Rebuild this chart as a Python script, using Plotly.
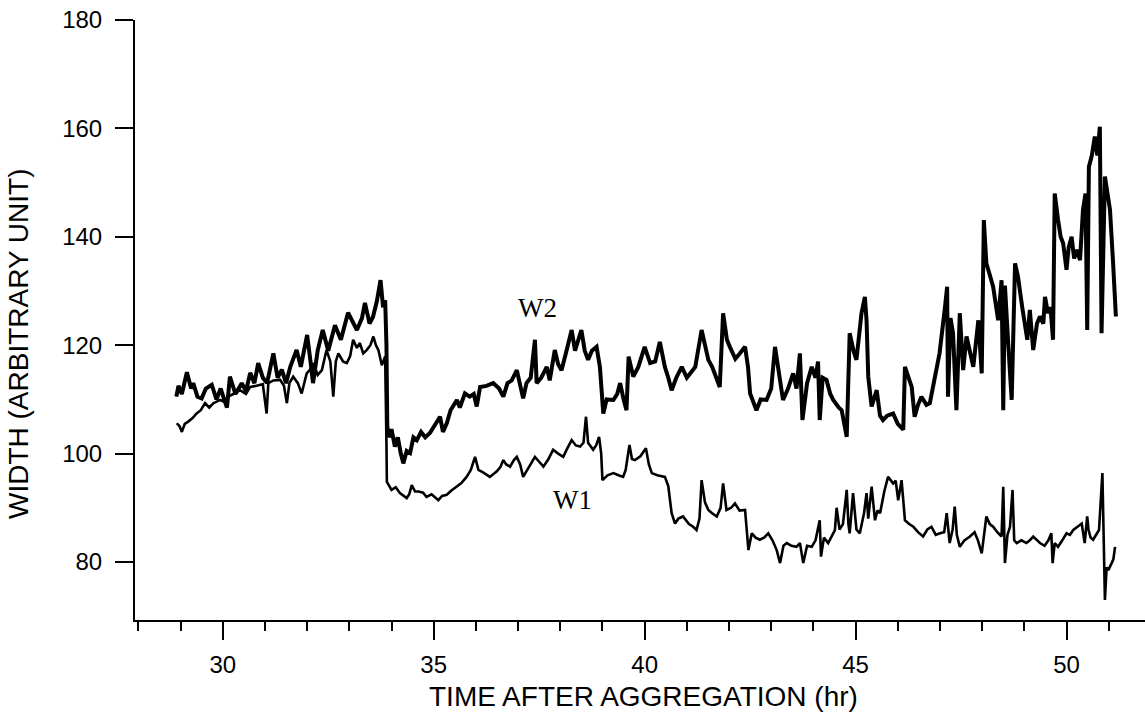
import plotly.graph_objects as go

# ---- data ----
w2_time = [28.90, 28.95, 29.03, 29.15, 29.25, 29.30, 29.40, 29.50, 29.60, 29.74, 29.85, 29.95,
           30.10, 30.17, 30.30, 30.45, 30.55, 30.65, 30.75, 30.84, 30.95, 31.05, 31.20, 31.30,
           31.40, 31.50, 31.60, 31.75, 31.85, 32.00, 32.08, 32.14, 32.25, 32.37, 32.50, 32.66,
           32.80, 32.97, 33.10, 33.18, 33.30, 33.37, 33.48, 33.56, 33.65, 33.74, 33.80, 33.85,
           33.88, 33.90, 33.95, 34.00, 34.08, 34.15, 34.22, 34.28, 34.36, 34.44, 34.52, 34.60,
           34.70, 34.80, 34.91, 35.00, 35.15, 35.22, 35.31, 35.40, 35.55, 35.62, 35.74, 35.85,
           35.95, 36.02, 36.10, 36.25, 36.41, 36.55, 36.65, 36.75, 36.85, 36.97, 37.05, 37.12,
           37.20, 37.30, 37.40, 37.44, 37.55, 37.68, 37.75, 37.87, 37.95, 38.03, 38.15, 38.27,
           38.35, 38.50, 38.58, 38.66, 38.75, 38.86, 38.94, 38.98, 39.02, 39.10, 39.26, 39.35,
           39.42, 39.50, 39.57, 39.62, 39.73, 39.85, 40.00, 40.13, 40.25, 40.36, 40.48, 40.56,
           40.64, 40.75, 40.88, 41.00, 41.11, 41.20, 41.35, 41.45, 41.51, 41.60, 41.70, 41.78,
           41.86, 41.95, 42.02, 42.15, 42.26, 42.38, 42.45, 42.50, 42.65, 42.75, 42.89, 43.00,
           43.09, 43.18, 43.28, 43.40, 43.52, 43.60, 43.68, 43.74, 43.85, 43.96, 44.05, 44.11,
           44.15, 44.22, 44.31, 44.40, 44.47, 44.60, 44.67, 44.79, 44.86, 44.95, 45.02, 45.14,
           45.22, 45.26, 45.30, 45.38, 45.50, 45.58, 45.65, 45.75, 45.89, 46.00, 46.13, 46.17,
           46.25, 46.33, 46.40, 46.48, 46.56, 46.68, 46.76, 46.88, 46.99, 47.12, 47.17, 47.19,
           47.25, 47.31, 47.39, 47.47, 47.55, 47.63, 47.71, 47.79, 47.91, 47.99, 48.04, 48.10,
           48.18, 48.26, 48.38, 48.46, 48.50, 48.54, 48.62, 48.70, 48.78, 48.85, 48.95, 49.01,
           49.07, 49.13, 49.21, 49.30, 49.37, 49.45, 49.49, 49.56, 49.62, 49.68, 49.72, 49.80,
           49.86, 49.92, 50.00, 50.05, 50.12, 50.18, 50.24, 50.32, 50.39, 50.45, 50.49, 50.53,
           50.60, 50.67, 50.73, 50.79, 50.83, 50.91, 50.97, 51.03, 51.10, 51.17]
w2_width = [110.5, 112.5, 111, 115, 112, 113, 110.5, 110.2, 112, 112.7, 110, 112,
            108.5, 114.2, 111, 113, 111.5, 114.9, 113, 116.7, 114, 113, 118.5, 114,
            115.5, 113, 116, 119.1, 116, 121.9, 117, 113, 119, 122.8, 119, 123.7,
            121, 126, 124, 122.8, 125, 127.8, 124, 125.2, 128, 132, 127, 128.3,
            120, 105, 103, 104.5, 101.3, 103, 100, 98.2, 100.5, 100.1, 103, 102.5,
            104, 103, 103.8, 105, 106.8, 104, 105.6, 108, 109.9, 108.5, 111.1, 110.5,
            111, 108.7, 112.3, 112.5, 113, 112, 110.5, 113, 113.5, 115.4, 113, 110.2,
            113, 114, 121, 113, 114, 116, 113.5, 119.1, 116.5, 115.4, 119, 122.8,
            119, 122.8, 119, 117.3, 119, 119.7, 116, 110.5, 107.4, 110, 109.9, 111,
            113, 110, 108, 117.9, 114.2, 116, 119.7, 116.7, 117, 120.6, 116, 114,
            111.7, 114, 116, 114, 115.1, 116, 122.8, 119, 117.3, 116, 114, 112.3,
            125.9, 121, 119.7, 117.5, 118.5, 119.7, 116, 111.1, 108, 110, 109.9, 112,
            119.7, 115, 109.9, 112, 114.8, 112, 118.5, 106.2, 113, 116, 114, 117,
            106.2, 114, 113.6, 111, 109.9, 108.5, 108, 103.1, 122.2, 119, 117.3, 125.9,
            128.9, 124.6, 114.2, 108.7, 111.7, 107, 106.2, 107, 107.4, 105.5, 104.4, 116,
            114, 112.3, 106.8, 109, 110.5, 109, 109.3, 114.2, 118.5, 127.1, 130.8, 110.5,
            125, 122.2, 108, 125.9, 115.4, 121.6, 119, 116, 124.6, 114.8, 143.1, 135.1,
            133, 130.8, 124.6, 132, 108, 131, 120, 109.9, 135.1, 132.6, 127, 124,
            121, 126.5, 119.1, 124, 125.3, 124, 128.9, 125.9, 127, 121, 148, 143.1,
            140, 138.8, 133.9, 138, 140, 136, 137.6, 135.7, 145, 148, 122.8, 152.9,
            155, 158.5, 155, 160.3, 122.2, 151.1, 148, 145, 135.7, 125.3]

w1_time = [28.91, 28.98, 29.03, 29.10, 29.18, 29.28, 29.38, 29.48, 29.58, 29.68, 29.78, 29.94,
           30.05, 30.13, 30.25, 30.41, 30.55, 30.65, 30.80, 30.95, 31.04, 31.08, 31.20, 31.36,
           31.45, 31.52, 31.58, 31.67, 31.78, 31.87, 31.99, 32.07, 32.15, 32.25, 32.35, 32.46,
           32.55, 32.62, 32.68, 32.74, 32.85, 32.94, 33.02, 33.09, 33.18, 33.25, 33.33, 33.41,
           33.50, 33.57, 33.63, 33.69, 33.77, 33.85, 33.88, 33.89, 34.00, 34.10, 34.20, 34.36,
           34.42, 34.48, 34.56, 34.64, 34.75, 34.83, 34.95, 35.11, 35.20, 35.31, 35.42, 35.55,
           35.65, 35.78, 35.88, 35.98, 36.06, 36.18, 36.33, 36.49, 36.58, 36.65, 36.72, 36.81,
           36.90, 36.97, 37.05, 37.12, 37.25, 37.40, 37.50, 37.60, 37.72, 37.83, 37.95, 38.07,
           38.17, 38.27, 38.37, 38.47, 38.55, 38.61, 38.66, 38.78, 38.85, 38.92, 38.97, 39.00,
           39.12, 39.26, 39.38, 39.49, 39.55, 39.64, 39.70, 39.77, 39.90, 40.03, 40.10, 40.17,
           40.30, 40.48, 40.56, 40.64, 40.72, 40.80, 40.91, 41.05, 41.15, 41.23, 41.30, 41.35,
           41.43, 41.51, 41.60, 41.71, 41.80, 41.86, 41.94, 42.05, 42.14, 42.25, 42.38, 42.46,
           42.54, 42.63, 42.73, 42.83, 42.93, 43.03, 43.13, 43.21, 43.29, 43.37, 43.48, 43.60,
           43.68, 43.76, 43.85, 43.96, 44.05, 44.15, 44.18, 44.25, 44.35, 44.45, 44.51, 44.55,
           44.62, 44.70, 44.79, 44.83, 44.86, 44.94, 45.02, 45.10, 45.20, 45.26, 45.30, 45.38,
           45.46, 45.52, 45.58, 45.68, 45.77, 45.89, 45.95, 46.01, 46.09, 46.17, 46.27, 46.37,
           46.48, 46.60, 46.70, 46.80, 46.90, 47.00, 47.10, 47.16, 47.23, 47.30, 47.35, 47.40,
           47.47, 47.58, 47.71, 47.82, 47.90, 47.99, 48.05, 48.10, 48.18, 48.26, 48.36, 48.46,
           48.50, 48.54, 48.60, 48.66, 48.72, 48.76, 48.82, 48.93, 49.05, 49.13, 49.21, 49.30,
           49.37, 49.48, 49.57, 49.64, 49.67, 49.72, 49.80, 49.90, 50.00, 50.08, 50.16, 50.26,
           50.36, 50.43, 50.49, 50.52, 50.57, 50.63, 50.70, 50.77, 50.85, 50.88, 50.91, 50.95,
           50.99, 51.07, 51.11, 51.15]
w1_width = [105.6, 105, 104, 105.5, 105.9, 106.5, 107.4, 108, 109.3, 108.5, 109.3, 109.9,
            109.5, 110.5, 111, 111.7, 111, 112.3, 112.5, 112.8, 107.4, 113, 113.5, 113.6,
            112.5, 109.3, 113, 114.2, 113, 111.1, 114.8, 115.5, 116.7, 114.5, 115.4, 119.1,
            117, 110.5, 117, 118.5, 117, 116.7, 118, 121, 119.5, 120.4, 118.5, 119.1,
            120, 121.6, 120, 119.1, 116.3, 117.9, 101.9, 94.8, 93.3, 93.8, 92.7, 91.8,
            92.5, 94.2, 93, 93, 92.8, 92, 92.5, 91.4, 92.2, 92.4, 93.2, 93.9,
            94.5, 95.7, 97, 99.4, 97, 96.5, 95.7, 96.7, 97.5, 98.8, 98, 97.6,
            98.8, 99.4, 98, 95.7, 97.5, 99.4, 98.5, 97.6, 99, 100.7, 100, 99.4,
            101, 102.5, 101.5, 101.3, 102, 106.8, 102, 100.7, 101.5, 103.1, 100, 95.1,
            96, 96.4, 96, 95.7, 97, 101.6, 99, 98.8, 99.5, 101, 98, 96.4,
            96, 95.7, 94, 89, 87.1, 88, 88.4, 87, 86.5, 85.9, 88, 95.1,
            91, 89.6, 89, 88.4, 90, 94.5, 89.6, 90, 90.8, 89.5, 89.6, 82.2,
            85.3, 84.5, 84.1, 84.5, 85.3, 84, 82.2, 79.8, 83, 83.5, 83, 82.8,
            83.5, 79.8, 83, 82.8, 84, 87.7, 81, 84.5, 83.5, 85, 85.9, 90,
            86, 87, 93.3, 87, 85.3, 92.7, 86, 85.3, 89, 92.7, 88, 93.9,
            87.7, 89.5, 89, 93, 95.7, 94.5, 95, 91.4, 95.1, 87.7, 87, 86.5,
            85.5, 84.7, 86, 86.5, 85, 85.3, 85.5, 89, 83.5, 86, 90.2, 85,
            82.8, 84, 84.7, 85.5, 84, 81.6, 85, 88.4, 87, 86.5, 85.5, 84.7,
            93.9, 79.8, 85, 86.5, 93.3, 84, 83.5, 84, 83.5, 84, 84.7, 84,
            83.5, 83, 84, 85.3, 79.8, 83.5, 82.8, 84, 85.3, 85, 85.9, 86.5,
            87.1, 83.5, 88.4, 86, 84.5, 84.1, 85, 85.9, 96.4, 84, 73, 79,
            78.5, 79.8, 80.5, 82.8]

x_ticks = [30, 35, 40, 45, 50]
y_ticks = [80, 100, 120, 140, 160, 180]
x_title = "TIME AFTER AGGREGATION (hr)"
y_title = "WIDTH (ARBITRARY UNIT)"
series_labels = [("W2", 37.47, 126.9), ("W1", 38.3, 91.4)]

fig = go.Figure()
fig.add_trace(go.Scatter(x=w2_time, y=w2_width, mode="lines", name="W2",
                         line=dict(color="black", width=4)))
fig.add_trace(go.Scatter(x=w1_time, y=w1_width, mode="lines", name="W1",
                         line=dict(color="black", width=2.6)))

sans = "Liberation Sans, Arial, Helvetica, sans-serif"
for text, tx, ty in series_labels:
    fig.add_annotation(x=tx, y=ty, xref="x", yref="y", text=text, showarrow=False,
                       font=dict(family="Liberation Serif, Times New Roman, serif",
                                 size=27, color="black"))

fig.add_annotation(x=-0.1158, y=0.46, xref="paper", yref="paper", text=y_title,
                   textangle=-90, showarrow=False, xanchor="center", yanchor="middle",
                   font=dict(family=sans, size=28, color="black"))
fig.add_annotation(x=0.503, y=-0.128, xref="paper", yref="paper", text=x_title,
                   showarrow=False, xanchor="center", yanchor="middle",
                   font=dict(family=sans, size=28, color="black"))

fig.update_layout(
    width=1145, height=713,
    margin=dict(l=135, r=0, t=20, b=93),
    paper_bgcolor="white", plot_bgcolor="white",
    showlegend=False,
    xaxis=dict(range=[27.92, 51.86], tickvals=x_ticks, showgrid=False, zeroline=False,
               showline=True, linecolor="black", linewidth=2,
               ticks="outside", ticklen=18, tickwidth=2, tickcolor="black",
               ticklabelstandoff=4,
               minor=dict(dtick=1, tick0=0, ticks="outside", ticklen=9, tickwidth=2,
                          tickcolor="black", showgrid=False),
               tickfont=dict(family=sans, size=24, color="black")),
    yaxis=dict(range=[69.3, 180], tickvals=y_ticks, showgrid=False, zeroline=False,
               showline=True, linecolor="black", linewidth=2,
               ticks="outside", ticklen=18, tickwidth=2, tickcolor="black",
               ticklabelstandoff=8,
               tickfont=dict(family=sans, size=24, color="black")),
)

fig.write_html("out.html")
